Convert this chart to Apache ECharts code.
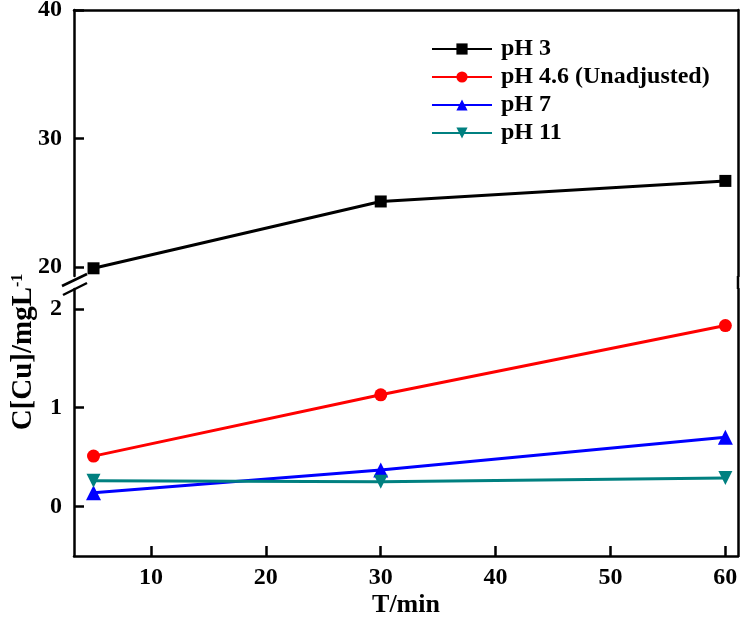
<!DOCTYPE html>
<html><head><meta charset="utf-8">
<script src="https://cdn.jsdelivr.net/npm/echarts@6/dist/echarts.min.js"></script>
<style>html,body{margin:0;padding:0;background:#fff}#c{width:750px;height:621px}</style>
</head><body><div id="c"></div>
<script>
const times = [5, 30, 60];
const seriesNames = ['pH 3', 'pH 4.6 (Unadjusted)', 'pH 7', 'pH 11'];
const pH3 = [19.9, 25.1, 26.7];
const pH46 = [0.51, 1.13, 1.83];
const pH7 = [0.14, 0.37, 0.70];
const pH11 = [0.26, 0.25, 0.29];
const xTicks = [10, 20, 30, 40, 50, 60];
const yTicksUpper = [20, 30, 40];
const yTicksLower = [0, 1, 2];

const FONT = "'Liberation Serif','Times New Roman',serif";
const chart = echarts.init(document.getElementById('c'));
const L = 74, R = 12, UT = 10, UB = 276, LT = 289, LB = 556;
const pairs = v => times.map((t, i) => [t, v[i]]);
const axLine = {show: true, onZero: false, lineStyle: {color: '#000', width: 2.5}};
const labelStyle = {color: '#000', fontFamily: FONT, fontWeight: 'bold', fontSize: 24};

function mk(name, data, color, symbol, size, axisIdx) {
  return {name, type: 'line', data, xAxisIndex: axisIdx, yAxisIndex: axisIdx,
    symbol, symbolSize: size, itemStyle: {color}, lineStyle: {color, width: 3}, animation: false};
}

chart.setOption({
  animation: false,
  grid: [
    {left: L, right: R, top: UT, height: UB - UT, outerBoundsMode: 'none', containLabel: false},
    {left: L, right: R, top: LT, height: LB - LT, outerBoundsMode: 'none', containLabel: false}
  ],
  xAxis: [
    {gridIndex: 0, type: 'value', min: 3.3, max: 61.1, position: 'top',
     axisLine: axLine, axisTick: {show: false}, axisLabel: {show: false}, splitLine: {show: false}},
    {gridIndex: 1, type: 'value', min: 3.3, max: 61.1, position: 'bottom',
     axisLine: axLine, axisTick: {show: true, inside: true, length: 10, customValues: xTicks, lineStyle: {color: '#000', width: 2.5}},
     axisLabel: Object.assign({customValues: xTicks, margin: 10}, labelStyle), splitLine: {show: false},
     name: 'T/min', nameLocation: 'middle', nameGap: 36,
     nameTextStyle: {color: '#000', fontFamily: FONT, fontWeight: 'bold', fontSize: 26}}
  ],
  yAxis: [
    {gridIndex: 0, type: 'value', min: 19.3, max: 40, position: 'left',
     axisLine: axLine, axisTick: {show: true, inside: true, length: 10, customValues: yTicksUpper, lineStyle: {color: '#000', width: 2.5}},
     axisLabel: Object.assign({customValues: yTicksUpper, margin: 12}, labelStyle), splitLine: {show: false}},
    {gridIndex: 1, type: 'value', min: -0.5, max: 2.2, position: 'left',
     axisLine: axLine, axisTick: {show: true, inside: true, length: 10, customValues: yTicksLower, lineStyle: {color: '#000', width: 2.5}},
     axisLabel: Object.assign({customValues: yTicksLower, margin: 12}, labelStyle), splitLine: {show: false}},
    {gridIndex: 0, type: 'value', min: 19.3, max: 40, position: 'right',
     axisLine: axLine, axisTick: {show: false}, axisLabel: {show: false}, splitLine: {show: false}},
    {gridIndex: 1, type: 'value', min: -0.5, max: 2.2, position: 'right',
     axisLine: axLine, axisTick: {show: false}, axisLabel: {show: false}, splitLine: {show: false}}
  ],
  legend: {
    data: seriesNames, orient: 'vertical', left: 426, top: 32, itemGap: 4,
    itemWidth: 60, itemHeight: 14,
    textStyle: {color: '#000', fontFamily: FONT, fontWeight: 'bold', fontSize: 24, padding: [0, 0, 0, 4]}
  },
  series: [
    mk(seriesNames[0], pairs(pH3), '#000000', 'rect', 12, 0),
    mk(seriesNames[1], pairs(pH46), '#ff0000', 'circle', 13, 1),
    mk(seriesNames[2], pairs(pH7), '#0000ff', 'triangle', 15, 1),
    mk(seriesNames[3], pairs(pH11), '#008080', 'path://M0,0 L10,0 L5,9 Z', 14, 1)
  ],
  graphic: [
    {type: 'line', shape: {x1: 750 - R, y1: UB, x2: 750 - R, y2: LT}, style: {stroke: '#000', lineWidth: 2.5}},
    {type: 'line', shape: {x1: 62, y1: 286, x2: 87, y2: 274}, style: {stroke: '#000', lineWidth: 2.5}},
    {type: 'line', shape: {x1: 63, y1: 295, x2: 87, y2: 283}, style: {stroke: '#000', lineWidth: 2.5}},
    {type: 'text', x: 24, y: 352, rotation: Math.PI / 2,
     style: {text: '{a|C[Cu]/mgL}{s|-1}', align: 'center', verticalAlign: 'middle',
       rich: {a: {fontFamily: FONT, fontWeight: 'bold', fontSize: 29, fill: '#000', color: '#000'},
              s: {fontFamily: FONT, fontWeight: 'bold', fontSize: 16, fill: '#000', color: '#000', verticalAlign: 'top', padding: [0, 0, 10, 0]}}}}
  ]
});
</script></body></html>
